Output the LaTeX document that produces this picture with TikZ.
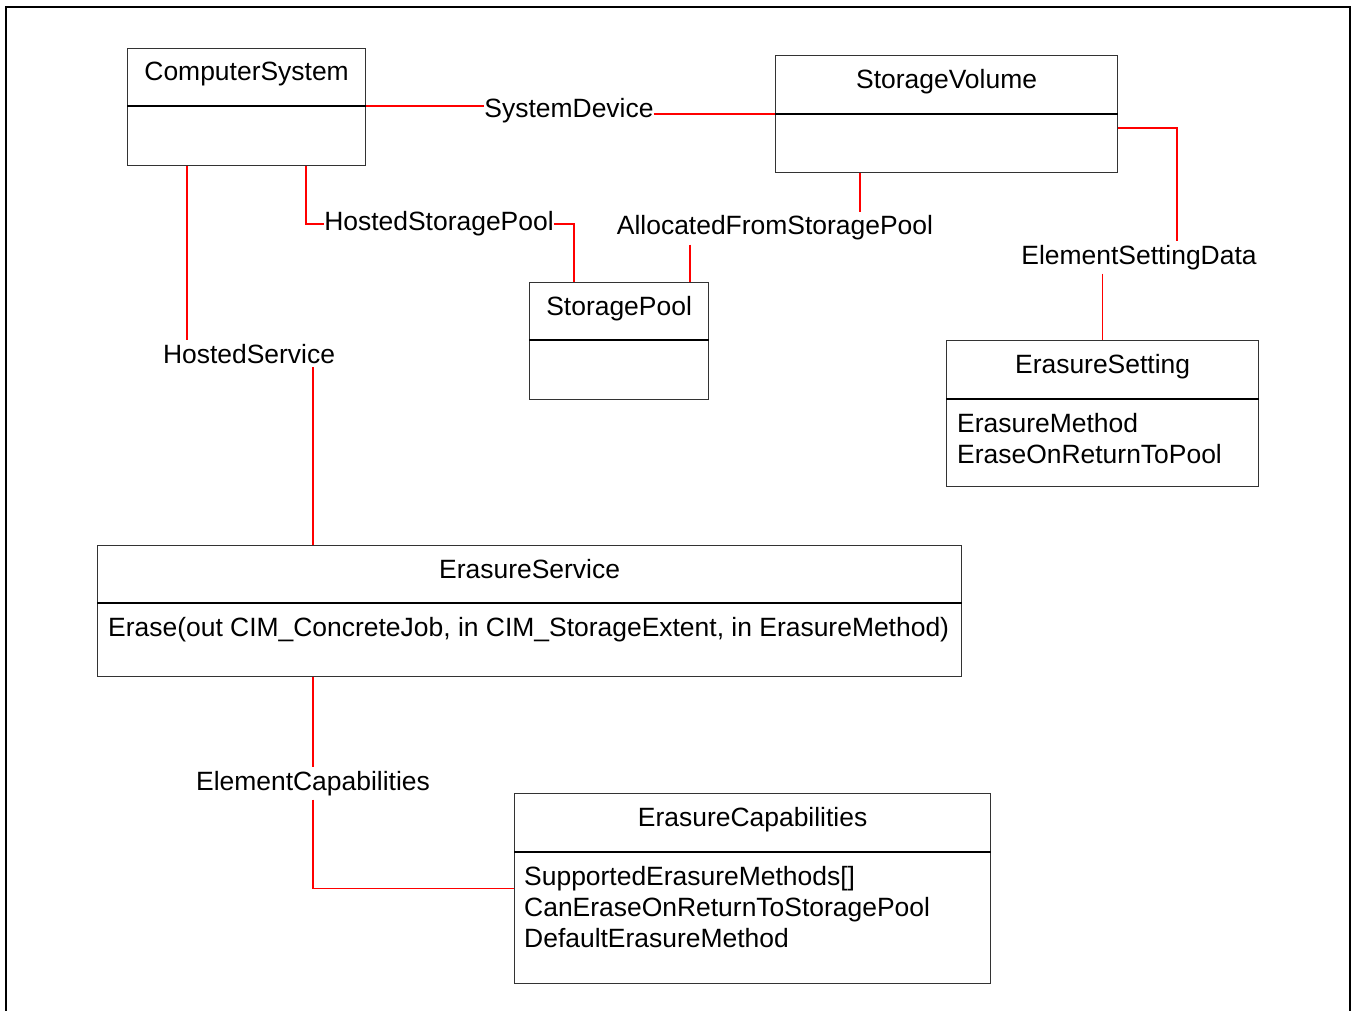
\documentclass[tikz,border=0pt]{standalone}
\usepackage{fontspec}
\setmainfont{Liberation Sans}
\usetikzlibrary{calc}
\begin{document}
\begin{tikzpicture}[x=1pt,y=-1pt,
  every node/.style={font=\fontsize{26.45}{31}\selectfont},
  umlbox/.style={draw=black!80, line width=1.2pt, anchor=north west, inner sep=0pt},
  divline/.style={draw=black, line width=1.2pt},
  rel/.style={draw=red, line width=1.5pt},
  rlabel/.style={inner xsep=0pt, inner ysep=4pt, anchor=base},
  title/.style={anchor=base, inner sep=0pt},
  attr/.style={anchor=base west, inner sep=0pt}
]
\useasboundingbox (0,0) rectangle (1352,1011);
\fill[white] (0,0) rectangle (1352,1011);
% outer frame
\draw[line width=2.6pt, black] (6,1030) -- (6,7) -- (1350,7) -- (1350,1030);

% ---------- boxes ----------
\node[umlbox, minimum width=238pt, minimum height=117pt] (cs) at (127,48) {};
\draw[divline] ($(cs.north west)+(0,58)$) -- ($(cs.north east)+(0,58)$);
\node[title] at ($(cs.north)+(0,33)$) {ComputerSystem};

\node[umlbox, minimum width=342pt, minimum height=117pt] (sv) at (775,55) {};
\draw[divline] ($(sv.north west)+(0,59)$) -- ($(sv.north east)+(0,59)$);
\node[title] at ($(sv.north)+(0,34)$) {StorageVolume};

\node[umlbox, minimum width=179pt, minimum height=117pt] (sp) at (529,282) {};
\draw[divline] ($(sp.north west)+(0,58)$) -- ($(sp.north east)+(0,58)$);
\node[title] at ($(sp.north)+(0,33)$) {StoragePool};

\node[umlbox, minimum width=312pt, minimum height=146pt] (es) at (946,340) {};
\draw[divline] ($(es.north west)+(0,59)$) -- ($(es.north east)+(0,59)$);
\node[title] at ($(es.north)+(0,33)$) {ErasureSetting};
\node[attr] at ($(es.north west)+(11,92)$) {ErasureMethod};
\node[attr] at ($(es.north west)+(11,123)$) {EraseOnReturnToPool};

\node[umlbox, minimum width=864pt, minimum height=131pt] (esv) at (97,545) {};
\draw[divline] ($(esv.north west)+(0,58)$) -- ($(esv.north east)+(0,58)$);
\node[title] at ($(esv.north)+(0,33)$) {ErasureService};
\node[attr] at ($(esv.north west)+(11,91)$) {Erase(out CIM\_ConcreteJob, in CIM\_StorageExtent, in ErasureMethod)};

\node[umlbox, minimum width=476pt, minimum height=190pt] (ecap) at (514,793) {};
\draw[divline] ($(ecap.north west)+(0,59)$) -- ($(ecap.north east)+(0,59)$);
\node[title] at ($(ecap.north)+(0,33)$) {ErasureCapabilities};
\node[attr] at ($(ecap.north west)+(10,92)$) {SupportedErasureMethods[]};
\node[attr] at ($(ecap.north west)+(10,123)$) {CanEraseOnReturnToStoragePool};
\node[attr] at ($(ecap.north west)+(10,154)$) {DefaultErasureMethod};

% ---------- relation labels ----------
\node[rlabel] (sd)   at (569,118) {SystemDevice};
\node[rlabel] (hsp)  at (439,231) {HostedStoragePool};
\node[rlabel] (afsp) at (775,235) {AllocatedFromStoragePool};
\node[rlabel] (esd)  at (1139,264) {ElementSettingData};
\node[rlabel] (hs)   at (249,363) {HostedService};
\node[rlabel] (ecl)  at (313,790) {ElementCapabilities};

% ---------- helper coordinates ----------
\coordinate (csd) at (0,106);
\coordinate (svd) at (0,114);
\coordinate (svr) at (0,128);
\coordinate (x187) at (187,0);
\coordinate (x306) at (306,0);
\coordinate (x313) at (313,0);
\coordinate (x574) at (574,0);
\coordinate (x690) at (690,0);
\coordinate (x860) at (860,0);
\coordinate (x1177) at (1177,0);

% ---------- connectors ----------
\draw[rel] (cs.east |- csd) -- (sd.west |- csd);
\draw[rel] (sd.east |- svd) -- (sv.west |- svd);

\draw[rel] (cs.south -| x306) |- (hsp.west);
\draw[rel] (hsp.east) -| (sp.north -| x574);

\draw[rel] (sv.south -| x860) -- (afsp.north -| x860);
\draw[rel] (afsp.south -| x690) -- (sp.north -| x690);

\draw[rel] (sv.east |- svr) -| (esd.north -| x1177);
\draw[rel] (esd.south -| es.north) -- (es.north);

\draw[rel] (cs.south -| x187) -- (hs.north -| x187);
\draw[rel] (hs.south -| x313) -- (esv.north -| x313);

\draw[rel] (esv.south -| x313) -- (ecl.north -| x313);
\draw[rel] (ecl.south -| x313) |- (ecap.west);
\end{tikzpicture}
\end{document}
